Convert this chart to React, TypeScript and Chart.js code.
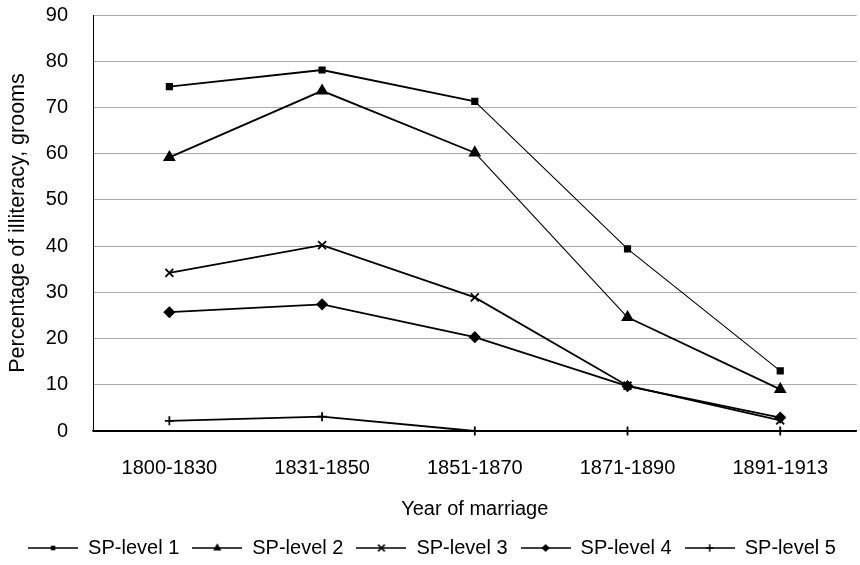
import React, { useEffect, useRef } from "react";
import { Chart, registerables } from "chart.js";

Chart.register(...registerables);

// ---- data ----
const categories = ["1800-1830", "1831-1850", "1851-1870", "1871-1890", "1891-1913"];
const seriesNames = ["SP-level 1", "SP-level 2", "SP-level 3", "SP-level 4", "SP-level 5"];
const level1 = [74.5, 78.1, 71.3, 39.4, 13.0];
const level2 = [59.2, 73.6, 60.2, 24.6, 9.0];
const level3 = [34.2, 40.2, 28.9, 9.8, 2.3];
const level4 = [25.7, 27.4, 20.3, 9.7, 2.9];
const level5 = [2.2, 3.1, 0, 0, 0];
const yMin = 0;
const yMax = 90;
const yStep = 10;
const xTitle = "Year of marriage";
const yTitle = "Percentage of illiteracy, grooms";

const seriesValues = [level1, level2, level3, level4, level5];
const markerStyles = ["rect", "triangle", "crossRot", "rectRot", "cross"];
const markerRadii = [3.8, 5.6, 5.6, 4.8, 4.5];

const FONT = "'Liberation Sans', Arial, Helvetica, sans-serif";

function drawMarker(ctx: CanvasRenderingContext2D, style: string, x: number, y: number, r: number) {
  ctx.beginPath();
  if (style === "rect") {
    const s = Math.SQRT1_2 * r;
    ctx.rect(x - s, y - s, 2 * s, 2 * s);
    ctx.fill();
  } else if (style === "triangle") {
    ctx.moveTo(x, y - r);
    ctx.lineTo(x + r * 0.866, y + r / 2);
    ctx.lineTo(x - r * 0.866, y + r / 2);
    ctx.closePath();
    ctx.fill();
  } else if (style === "rectRot") {
    ctx.moveTo(x, y - r);
    ctx.lineTo(x + r, y);
    ctx.lineTo(x, y + r);
    ctx.lineTo(x - r, y);
    ctx.closePath();
    ctx.fill();
  } else if (style === "crossRot") {
    const s = Math.SQRT1_2 * r;
    ctx.moveTo(x - s, y - s);
    ctx.lineTo(x + s, y + s);
    ctx.moveTo(x + s, y - s);
    ctx.lineTo(x - s, y + s);
    ctx.stroke();
  } else if (style === "cross") {
    ctx.moveTo(x - r, y);
    ctx.lineTo(x + r, y);
    ctx.moveTo(x, y - r);
    ctx.lineTo(x, y + r);
    ctx.stroke();
  }
}

function makeLegendImage(style: string, r: number) {
  const c = document.createElement("canvas");
  c.width = 50;
  c.height = 16;
  const ctx = c.getContext("2d")!;
  ctx.strokeStyle = "#000";
  ctx.fillStyle = "#000";
  ctx.lineWidth = 1.5;
  ctx.beginPath();
  ctx.moveTo(0, 8);
  ctx.lineTo(50, 8);
  ctx.stroke();
  drawMarker(ctx, style, 25, 8, r * 0.85);
  return c;
}

export default function App() {
  const ref = useRef<HTMLCanvasElement | null>(null);

  useEffect(() => {
    const canvas = ref.current;
    if (!canvas) return;
    Chart.defaults.font.family = FONT;
    Chart.defaults.color = "#000";

    const legendImages = markerStyles.map((s, i) => makeLegendImage(s, markerRadii[i]));

    const thinSegments: Record<number, number[]> = { 0: [2, 3], 1: [2] };

    const datasets = seriesValues.map((vals, i) => ({
      label: seriesNames[i],
      data: vals,
      borderColor: "#000",
      backgroundColor: "#000",
      borderWidth: 1.8,
      pointStyle: markerStyles[i] as any,
      pointRadius: markerRadii[i],
      pointBorderWidth: 1.8,
      pointBorderColor: "#000",
      pointBackgroundColor: "#000",
      tension: 0,
      clip: false as any,
      segment: {
        borderWidth: (c: any) => ((thinSegments[i] || []).includes(c.p0DataIndex) ? 1.1 : 1.8),
      },
    }));

    const chart = new Chart(canvas, {
      type: "line",
      data: { labels: categories, datasets },
      options: {
        animation: false,
        responsive: false,
        devicePixelRatio: 1,
        events: [],
        layout: { padding: { top: 15, left: 0, right: 0, bottom: 0 } },
        plugins: {
          tooltip: { enabled: false },
          legend: {
            display: true,
            position: "bottom",
            labels: {
              color: "#000",
              font: { size: 20, family: FONT },
              padding: 13,
              usePointStyle: true,
              pointStyleWidth: 50,
              generateLabels: () =>
                seriesNames.map((name, i) => ({
                  text: name,
                  fillStyle: "#000",
                  strokeStyle: "#000",
                  lineWidth: 0,
                  hidden: false,
                  pointStyle: legendImages[i] as any,
                  datasetIndex: i,
                  fontColor: "#000",
                })),
            },
          },
        },
        scales: {
          x: {
            type: "category",
            offset: true,
            grid: { display: false, drawTicks: false },
            border: { display: true, color: "#000", width: 1.5 },
            ticks: { color: "#000", font: { size: 20, family: FONT }, padding: 25, maxRotation: 0 },
            title: {
              display: true,
              text: xTitle,
              color: "#000",
              font: { size: 20, family: FONT },
              padding: { top: 0, bottom: 4 },
            },
            afterFit: (s: any) => {
              s.height = 94;
            },
          },
          y: {
            min: yMin,
            max: yMax,
            ticks: { stepSize: yStep, color: "#000", font: { size: 20, family: FONT }, padding: 0 },
            grid: {
              drawTicks: true,
              tickLength: 25,
              tickColor: "rgba(0,0,0,0)",
              color: (c: any) => (c.tick && c.tick.value === 0 ? "#000" : "#a8a8a8"),
              lineWidth: 1,
            },
            border: { display: true, color: "#000", width: 1 },
            title: {
              display: true,
              text: yTitle,
              color: "#000",
              font: { size: 21.5, family: FONT },
              padding: { top: 5, bottom: 0 },
            },
            afterFit: (s: any) => {
              s.width = 93;
            },
          },
        },
      },
    });
    return () => chart.destroy();
  }, []);

  return (
    <div
      style={{
        position: "fixed",
        left: 0,
        top: 0,
        width: 860,
        height: 565,
        overflow: "hidden",
        background: "#fff",
      }}
    >
      <canvas ref={ref} width={864} height={568} />
    </div>
  );
}
